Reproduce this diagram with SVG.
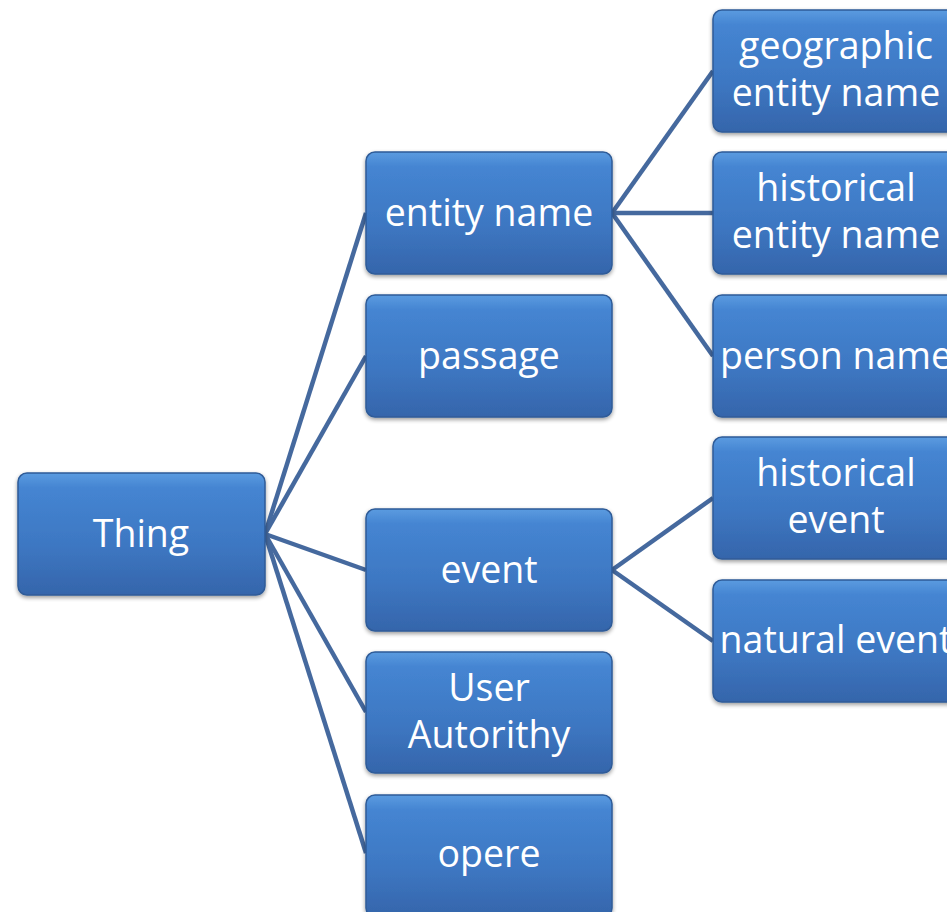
<svg xmlns="http://www.w3.org/2000/svg" width="947" height="912" viewBox="0 0 947 912">
<defs>
<linearGradient id="g" x1="0" y1="0" x2="0" y2="1">
<stop offset="0" stop-color="#5b9be0"/>
<stop offset="0.12" stop-color="#4585d2"/>
<stop offset="0.6" stop-color="#3d77c2"/>
<stop offset="1" stop-color="#3565ab"/>
</linearGradient>
<filter id="sh" x="-10%" y="-10%" width="120%" height="130%">
<feGaussianBlur in="SourceAlpha" stdDeviation="2"/>
<feOffset dy="2"/>
<feComponentTransfer><feFuncA type="linear" slope="0.4"/></feComponentTransfer>
<feMerge><feMergeNode/><feMergeNode in="SourceGraphic"/></feMerge>
</filter>
</defs>
<style>
.box{fill:url(#g);stroke:#2f5b98;stroke-width:1.5;filter:url(#sh)}
.t{font-family:"Open Sans","Noto Sans",sans-serif;font-size:37.5px;fill:#ffffff;text-anchor:middle}
.c{stroke:#45699e;stroke-width:4.5;fill:none}
</style>
<rect width="947" height="912" fill="#ffffff"/>
<g id="connectors">
<line class="c" x1="265" y1="534" x2="366" y2="213"/>
<line class="c" x1="265" y1="534" x2="366" y2="356"/>
<line class="c" x1="265" y1="534" x2="366" y2="570"/>
<line class="c" x1="265" y1="534" x2="366" y2="712"/>
<line class="c" x1="265" y1="534" x2="366" y2="853"/>
<line class="c" x1="612" y1="213" x2="713" y2="71"/>
<line class="c" x1="612" y1="213" x2="713" y2="213"/>
<line class="c" x1="612" y1="213" x2="713" y2="356"/>
<line class="c" x1="612" y1="570" x2="713" y2="498"/>
<line class="c" x1="612" y1="570" x2="713" y2="641"/>
</g>
<g id="thing"><rect class="box" x="18" y="473" width="247" height="122" rx="9"/><text class="t" x="141" y="547">Thing</text></g>
<g id="entity-name"><rect class="box" x="366" y="152" width="246" height="122" rx="9"/><text class="t" x="489" y="226">entity name</text></g>
<g id="passage"><rect class="box" x="366" y="295" width="246" height="122" rx="9"/><text class="t" x="489" y="369">passage</text></g>
<g id="event"><rect class="box" x="366" y="509" width="246" height="122" rx="9"/><text class="t" x="489" y="583">event</text></g>
<g id="user-autorithy"><rect class="box" x="366" y="652" width="246" height="121" rx="9"/><text class="t" x="489" y="701">User</text><text class="t" x="489" y="748">Autorithy</text></g>
<g id="opere"><rect class="box" x="366" y="795" width="246" height="122" rx="9"/><text class="t" x="489" y="867">opere</text></g>
<g id="geographic-entity-name"><rect class="box" x="713" y="10" width="250" height="122" rx="9"/><text class="t" x="836" y="59">geographic</text><text class="t" x="836" y="106">entity name</text></g>
<g id="historical-entity-name"><rect class="box" x="713" y="152" width="250" height="122" rx="9"/><text class="t" x="836" y="201">historical</text><text class="t" x="836" y="248">entity name</text></g>
<g id="person-name"><rect class="box" x="713" y="295" width="250" height="122" rx="9"/><text class="t" x="836" y="369">person name</text></g>
<g id="historical-event"><rect class="box" x="713" y="437" width="250" height="122" rx="9"/><text class="t" x="836" y="486">historical</text><text class="t" x="836" y="533">event</text></g>
<g id="natural-event"><rect class="box" x="713" y="580" width="250" height="122" rx="9"/><text class="t" x="836" y="653">natural event</text></g>
</svg>
